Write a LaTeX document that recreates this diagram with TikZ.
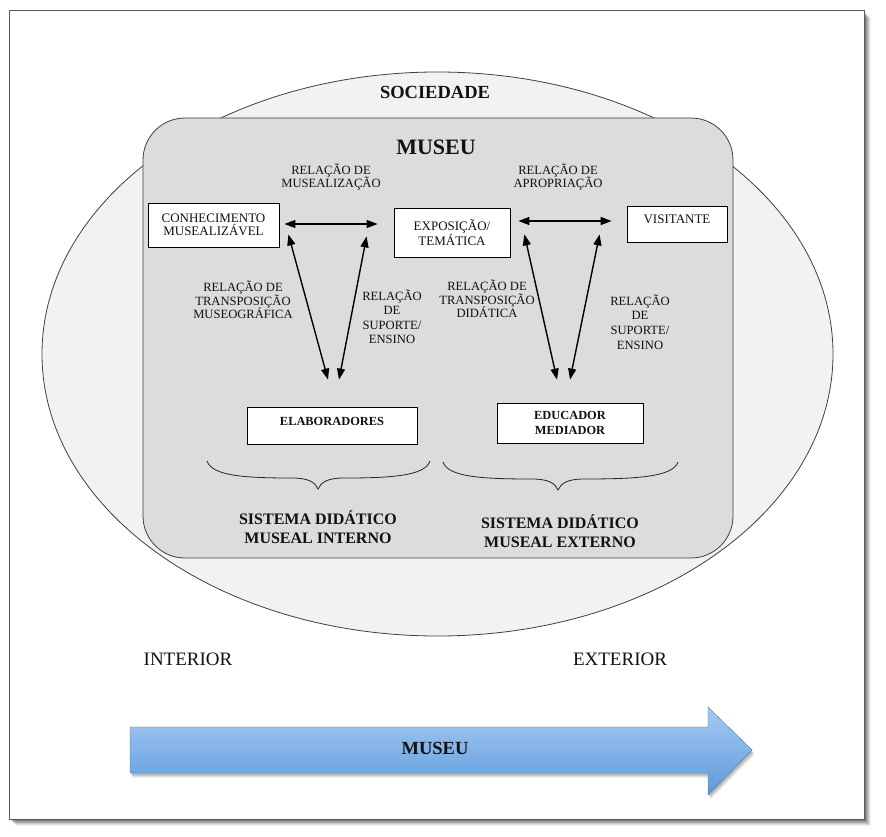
\documentclass[tikz,border=0pt]{standalone}
\usepackage{fontspec}
\setmainfont{Liberation Serif}
\usetikzlibrary{arrows.meta}
\definecolor{txt}{HTML}{111111}
\definecolor{ellfill}{HTML}{F2F2F2}
\definecolor{musfill}{HTML}{DCDCDC}
\definecolor{arrtop}{HTML}{A6CAF3}
\definecolor{arrbot}{HTML}{5E9ADB}
\tikzset{
  box/.style={draw=black, line width=0.8pt, fill=white, inner sep=0pt, align=center, text=txt, font=\fontsize{13}{13.5}\selectfont},
  lbl/.style={align=center, text=txt, inner sep=0pt, font=\fontsize{12.6}{13.6}\selectfont},
  bigbold/.style={align=center, text=txt, inner sep=0pt, font=\bfseries\fontsize{16}{19}\selectfont},
  dbl/.style={line width=1.4pt, black, {Triangle[length=11pt,width=8pt]}-{Triangle[length=11pt,width=8pt]}},
  brc/.style={line width=0.8pt, black!85}
}
\begin{document}
\begin{tikzpicture}[x=1pt,y=-1pt]
\useasboundingbox (0,0) rectangle (886,837);
% frame shadow
\foreach \o/\op in {7/0.06,6/0.08,5/0.1,4/0.12,3/0.14,2/0.16}{
  \fill[black,opacity=\op] (9+\o,11+\o) rectangle (864+\o,819+\o);
}
\filldraw[fill=white, draw=black!65, line width=1pt] (9,11) rectangle (864,819);
% ellipse
\filldraw[fill=ellfill, draw=black!75, line width=0.8pt] (437.5,354) ellipse [x radius=395.5, y radius=282];
\node[bigbold, font=\bfseries\fontsize{18.5}{20}\selectfont] (soc) at (435,92) {SOCIEDADE};
% museu rounded box
\filldraw[fill=musfill, draw=black!75, line width=0.8pt, rounded corners=42pt] (143,118) rectangle (733,558);
\node[bigbold, font=\bfseries\fontsize{22}{24}\selectfont] (mus) at (436,147) {MUSEU};
% boxes
\node[box, minimum width=131pt, minimum height=44pt] (conh) at (213.5,225) {CONHECIMENTO\\MUSEALIZÁVEL};
\node[box, minimum width=116pt, minimum height=49pt] (expo) at (452,232.5) {EXPOSIÇÃO/\\TEMÁTICA};
\node[box, minimum width=100pt, minimum height=36pt, text depth=9pt] (visit) at (677,224) {VISITANTE};
\node[box, minimum width=170pt, minimum height=37pt, text depth=9pt, font=\bfseries\fontsize{12.4}{14}\selectfont] (elab) at (332,425.5) {ELABORADORES};
\node[box, minimum width=146pt, minimum height=40pt, font=\bfseries\fontsize{12.4}{15}\selectfont] (educ) at (570,423) {EDUCADOR\\MEDIADOR};
% connector end points
\coordinate (h1a) at ([xshift=5pt,yshift=1pt]conh.east);
\coordinate (h1b) at ([xshift=-16pt,yshift=8.5pt]expo.west);
\coordinate (h2a) at ([xshift=8pt,yshift=11.5pt]expo.east);
\coordinate (h2b) at ([xshift=-15pt,yshift=3pt]visit.west);
\coordinate (d1a) at ([xshift=9pt,yshift=13pt]conh.south east);
\coordinate (d1b) at ([xshift=-4pt,yshift=27pt]elab.north);
\coordinate (d2a) at ([xshift=-27pt,yshift=21pt]expo.south west);
\coordinate (d2b) at ([xshift=7pt,yshift=27pt]elab.north);
\coordinate (d3a) at ([xshift=14pt,yshift=23pt]expo.south east);
\coordinate (d3b) at ([xshift=-13pt,yshift=23pt]educ.north);
\coordinate (d4a) at ([xshift=-27pt,yshift=8pt]visit.south west);
\coordinate (d4b) at ([xshift=0pt,yshift=23pt]educ.north);
\draw[dbl] (h1a) -- (h1b);
\draw[dbl] (h2a) -- (h2b);
\draw[dbl] (d1a) -- (d1b);
\draw[dbl] (d2a) -- (d2b);
\draw[dbl] (d3a) -- (d3b);
\draw[dbl] (d4a) -- (d4b);
% labels
\node[lbl] (l1) at (331,177) {RELAÇÃO DE\\MUSEALIZAÇÃO};
\node[lbl] (l2) at (558,177) {RELAÇÃO DE\\APROPRIAÇÃO};
\node[lbl] (l3) at (243,300) {RELAÇÃO DE\\TRANSPOSIÇÃO\\MUSEOGRÁFICA};
\node[lbl, font=\fontsize{12.6}{14.5}\selectfont] (l4) at (392,317) {RELAÇÃO\\DE\\SUPORTE/\\ENSINO};
\node[lbl] (l5) at (487,299) {RELAÇÃO DE\\TRANSPOSIÇÃO\\DIDÁTICA};
\node[lbl, font=\fontsize{12.6}{14.8}\selectfont] (l6) at (640,322) {RELAÇÃO\\DE\\SUPORTE/\\ENSINO};
% braces
\draw[brc] (207,461) .. controls (212,476) and (245,478) .. (292,478)
  .. controls (308,478) and (315,482) .. (318,489)
  .. controls (321,482) and (328,478) .. (344,478)
  .. controls (391,478) and (425,476) .. (430,461);
\draw[brc] (443,462) .. controls (448,477) and (482,479) .. (532,479)
  .. controls (548,479) and (555,483) .. (558,490)
  .. controls (561,483) and (568,479) .. (584,479)
  .. controls (636,479) and (673,477) .. (678,462);
\node[bigbold] (s1) at (318,527) {SISTEMA DIDÁTICO\\MUSEAL INTERNO};
\node[bigbold] (s2) at (560,531) {SISTEMA DIDÁTICO\\MUSEAL EXTERNO};
% interior / exterior
\node[text=txt, inner sep=0pt, font=\fontsize{19}{20}\selectfont] (int) at (188,659) {INTERIOR};
\node[text=txt, inner sep=0pt, font=\fontsize{19}{20}\selectfont] (ext) at (620,659) {EXTERIOR};
% big arrow
\foreach \o/\op in {5/0.05,4/0.07,3/0.09,2/0.1}{
  \fill[black,opacity=\op] (130+0.5*\o,727+\o) -- (708+0.5*\o,727+\o) -- (708+0.5*\o,707+\o) -- (752+0.5*\o,750+\o) -- (708+0.5*\o,795+\o) -- (708+0.5*\o,773+\o) -- (130+0.5*\o,773+\o) -- cycle;
}
\shade[top color=arrtop, bottom color=arrbot, draw=arrbot!80!black, line width=0.4pt] (130,727) -- (708,727) -- (708,707) -- (752,750) -- (708,795) -- (708,773) -- (130,773) -- cycle;
\node[text=txt, inner sep=0pt, font=\bfseries\fontsize{18.5}{20}\selectfont] (amus) at (435,748) {MUSEU};
\end{tikzpicture}
\end{document}
